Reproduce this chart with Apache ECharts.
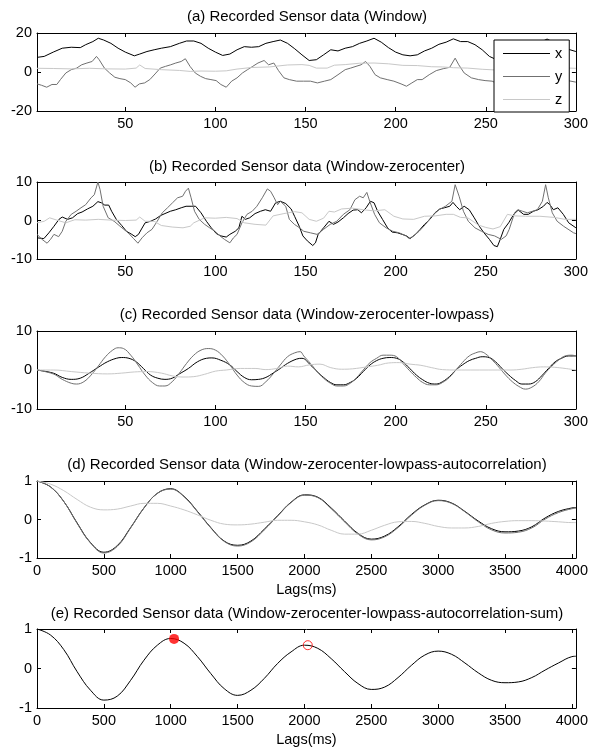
<!DOCTYPE html>
<html>
<head>
<meta charset="utf-8">
<script src="https://cdn.jsdelivr.net/npm/echarts@6/dist/echarts.min.js"></script>
<style>
html,body{margin:0;padding:0;background:#fff;}
#chart{width:591px;height:749px;}
</style>
</head>
<body>
<div id="chart"></div>
<script>
// ---------- text ----------
const panelTitles = [
  "(a) Recorded Sensor data (Window)",
  "(b) Recorded Sensor data (Window-zerocenter)",
  "(c) Recorded Sensor data (Window-zerocenter-lowpass)",
  "(d) Recorded Sensor data (Window-zerocenter-lowpass-autocorrelation)",
  "(e) Recorded Sensor data (Window-zerocenter-lowpass-autocorrelation-sum)"
];
const seriesNames = ["x", "y", "z"];
const lagAxisName = "Lags(ms)";

// ---------- tick labels ----------
const sampleTicks = [50, 100, 150, 200, 250, 300];
const lagTicks = [0, 500, 1000, 1500, 2000, 2500, 3000, 3500, 4000];

// ---------- (a) raw window ----------
const aX = [[1,7.5],[5,8],[10,10.2],[15,12.2],[20,12.7],[25,12.5],[28,14],[32,15.6],[35,17.3],[38,16.4],[42,14.7],[46,12.2],[50,10.2],[55,8.3],[58,9.2],[62,10.5],[66,11.4],[70,12.2],[75,13],[80,14.7],[84,15.9],[88,15.9],[92,14.7],[96,12.2],[100,10.2],[104,8.5],[108,9.2],[112,11.4],[116,13],[120,12.7],[124,13],[128,14.7],[132,15.6],[136,16.4],[140,14.7],[144,11.9],[148,8.8],[152,5.9],[156,6.3],[160,8.8],[164,11.4],[168,10.8],[172,12.2],[176,13],[180,14.7],[184,15.9],[188,17.3],[192,15.3],[196,12.5],[200,10.2],[204,8.8],[208,8.3],[212,8.8],[216,10.8],[220,12.2],[224,14.2],[228,15.3],[232,17],[236,15.6],[240,15.6],[244,14],[248,11.4],[252,8],[256,6.3],[260,9.9],[264,12],[268,14.9],[272,13.8],[276,14.6],[280,15],[284,16.9],[288,15],[292,14],[296,11.6],[300,10.5]];
const aY = [[1,-6.1],[3.5,-6.8],[6.4,-7.8],[9.3,-6.4],[12,-6.4],[14,-3.9],[17,-0.5],[20,1.2],[23,2],[25.8,3.7],[28.7,4.6],[31.6,5.4],[34,8],[35.5,6.3],[38.4,2],[41.3,-0.5],[44.2,-2.7],[47,-3.4],[50,-3.9],[53,-5.6],[55.4,-7.8],[57.8,-6.1],[60.7,-5.6],[63.6,-3.9],[66.5,-1],[69.4,2],[72.3,2.9],[75.2,3.7],[78,4.6],[81,5.4],[83.3,6.8],[85.9,2.9],[88.8,-0.5],[91.7,-2.2],[94.6,-3.4],[97.5,-3.9],[100.4,-4.4],[103,-6.4],[106,-7.8],[109,-4.7],[112,-3],[115,-0.5],[117.8,1.2],[120.7,2.9],[123.6,4.6],[127,5.9],[129.5,3.7],[132.4,4.6],[135,0.7],[138,-3],[141,-3.9],[145,-4.7],[148.8,-4.7],[152.7,-4.7],[156.6,-5.6],[160.5,-4.7],[164,-3.9],[168,-1.4],[172,1.2],[175,2],[178,2.9],[180.8,3.7],[183.3,5.4],[185.7,2.9],[188.6,-1.4],[191.5,-3],[195.3,-3.9],[199,-4.7],[203,-6.1],[206,-7.3],[209,-5.6],[212,-3.9],[214.7,-3.9],[218.6,-1.4],[222.5,0.7],[226.4,1.7],[230,2.4],[233,7.1],[235,3.7],[238,-0.5],[242,-3],[246,-3.9],[249.6,-4.4],[253.5,-4.7],[258.6,-6.9],[261,-6],[263,-4.3],[266,0],[268,0.8],[271,0.4],[274,0],[277,0.4],[280,0.8],[282,3],[283.5,7.3],[285,3.9],[287,0],[290,-2.2],[293,-3.5],[296,-4.5],[300,-5.2]];
const aZ = [[1,1.9],[10,1.8],[20,1.6],[30,1.9],[40,1.6],[50,1.5],[56,2],[58,3.6],[61,1.8],[70,1.2],[80,0.8],[86,0.3],[92,0.5],[100,0.4],[106,0.6],[112,1.5],[120,2.3],[130,2.6],[140,3.6],[148,3.8],[152,3.4],[156,2],[162,2],[166,3.5],[172,3.8],[180,4.5],[188,4.6],[196,4.2],[204,3.4],[212,3.3],[220,2.7],[226,2.6],[232,2.2],[240,2],[248,1.4],[256,1],[264,2.2],[272,2],[280,2.2],[288,2.4],[296,2],[300,1.9]];

// ---------- (b) zero-centred ----------
const bX = [[1,-4.5],[4.8,-4.7],[7.6,-3.2],[10.4,-1.5],[13.2,0.3],[15,0.9],[18,0.3],[20.7,0.7],[23.6,1.8],[26,2.2],[29,3],[32,3.7],[34.8,4.9],[36.7,4.6],[38.6,4],[40.8,4],[42.4,2.4],[45,0.3],[48,-1.3],[50.6,-2.8],[53.6,-3.6],[55.5,-4.2],[57.3,-3.6],[59,-2.2],[61,-0.6],[64,-0.2],[66.8,0.4],[69.6,1.3],[72,1.8],[75,2.4],[78,2.8],[81,3.3],[83.7,3.7],[86.5,3.7],[89,3.7],[92,2],[95,-0.2],[97.7,-1.9],[100.5,-3.4],[103,-4],[106,-4.3],[108,-3.6],[111,-2.8],[113,-1.9],[114.7,1.1],[116.6,0.3],[119,0.7],[122,1.8],[125,2.4],[127.7,2.8],[130.6,2.4],[133.4,4.6],[136,5],[139,4.4],[142,3],[144,1],[146.5,-1.5],[148.5,-4],[151,-5.3],[154,-6.5],[155.5,-5.8],[157,-3.6],[160,-1.9],[163,-0.2],[165.5,-1],[168,-0.4],[171,0.7],[173.6,1.8],[176.4,2.7],[179,2.8],[181,2],[183.6,3.3],[186,5],[188,4.6],[190,2.4],[192.7,0.3],[195.5,-1.9],[198,-3],[201,-3.2],[203.6,-3.6],[206,-4],[208,-4.7],[211,-3.6],[213.6,-2.3],[216,-1],[219,0.3],[221.8,2],[224.5,3],[227,3.3],[230,3.7],[231.8,4.7],[233.6,3.7],[235.5,2.8],[238,3.7],[240.8,2.8],[243.6,0.7],[246.4,-1.5],[249,-3.2],[252,-4.9],[254.5,-6.5],[256.4,-6.8],[258,-4.9],[260,-2.3],[262.7,-0.6],[265.5,1.6],[268,2.7],[271,1.6],[273.6,1.6],[276.4,2.4],[279,2.8],[282,3.7],[284,4.7],[285.6,4.1],[287.5,2.8],[290,3.3],[293,1.6],[296,-0.6],[300,-1.9]];
const bY = [[1,-3.6],[3.8,-4.9],[6.6,-5.9],[8.5,-4.9],[10.4,-3.6],[13,-4.2],[15,-2.8],[17,-0.2],[20,1.6],[22.7,2.4],[25.4,3.3],[28,4.1],[31,5.9],[32.8,6.7],[34.8,10],[36,8],[37.7,3.7],[40.5,0.7],[43.8,-0.2],[46.6,-1.3],[48.9,-2.2],[51.6,-3.2],[54.6,-4.7],[57,-5.9],[59.3,-4.5],[62,-3.2],[64.8,-2.3],[67.7,-0.2],[70.5,2],[73.4,3.3],[76.2,4.6],[79,5.9],[81.8,6.3],[83.4,7.6],[85,8.4],[86.5,5.9],[88.4,2.4],[91,0.3],[94,-1],[96.8,-1.9],[99.7,-2.8],[102.5,-4],[105,-4.9],[108,-5.8],[110,-4.5],[112,-3.6],[114.7,-0.6],[117.5,1.6],[120.4,2.4],[123,3.7],[126,5.9],[128.8,8.2],[130.6,7.6],[132.6,5.9],[134.5,4.1],[136,5],[139,3.7],[141,0.3],[143.8,-1],[146.7,-1.9],[149,-2.8],[152.7,-3.2],[156.4,-3.6],[160,-2.3],[163.7,-1],[167.3,-0.2],[171,1.6],[174.6,2.8],[177.4,5.4],[180,6.3],[182,5.9],[184,7.3],[185.6,5],[188.3,1.6],[191,-0.6],[194.7,-1.9],[198.4,-2.8],[202,-3.2],[205.7,-4],[207.5,-4.7],[210,-4],[213,-2.8],[216.6,-1],[220,1.1],[224,2.8],[227.6,3.7],[231.2,5],[233,9.3],[234,9.7],[235.2,6.3],[237.6,2.4],[240.3,-0.2],[244,-1.9],[247.6,-2.8],[251.3,-3.6],[254.9,-4],[258.6,-4.9],[261.3,-4],[263,-2.3],[266,2],[267.7,2.8],[270.4,2.4],[273,2],[276,2.4],[278.6,2.8],[281.4,5],[283.2,9.3],[284.7,5.9],[286.9,2],[289.6,-0.2],[293.2,-1.5],[298.7,-3.2],[300,-3.4]];
const bZ = [[1,-0.6],[5,-0.2],[8,0.7],[12,0.1],[17,-0.6],[22,0.2],[28,0.1],[35,0.3],[42,0.1],[50,0],[56,0.1],[58,0.9],[61,-0.2],[66,-0.2],[70,-1.3],[76,-1.7],[82,-1.9],[86,-1.5],[88,-0.6],[94,0.7],[100,0.6],[106,0.8],[112,0.5],[116,-0.6],[122,-1],[128,-1.2],[132,1.2],[138,1.8],[144,2.3],[148,2],[152,0.3],[156,-0.2],[160,0.6],[163,2.4],[166,2.2],[170,3],[176,3.2],[182,2.8],[188,2.5],[194,2.8],[199,1.1],[204,0.4],[210,0.3],[216,1.1],[222,1.2],[228,1.6],[232,1.6],[236,0.8],[240,0.7],[246,-1.2],[250,-1.8],[254,-2.2],[258,-1.6],[262,1.6],[266,1.2],[272,1.1],[280,1.1],[288,0.8],[294,0.3],[300,0.3]];

// ---------- (c) low-passed ----------
const cX = [[1,0],[10,-0.8],[15,-1.9],[20,-2.4],[25,-2.1],[30,-0.8],[35,0.7],[40,2.1],[45,3],[48,3.2],[52,3],[56,2.1],[60,0.4],[64,-1.3],[68,-2.1],[72,-2.4],[76,-2.1],[80,-1],[85,0.4],[90,2.1],[95,3],[98,3.1],[103,2.5],[108,1.3],[112,-0.4],[116,-1.9],[120,-2.5],[124,-2.4],[128,-1.9],[132,-0.8],[136,0.4],[140,1.7],[145,2.8],[148,3],[152.7,1.3],[156.4,-0.4],[160,-1.9],[163.8,-3.2],[167.4,-3.8],[171,-3.8],[174.8,-3.2],[178.4,-2.1],[182,-0.4],[185.8,1.3],[189.4,2.4],[193,3],[196.8,3.2],[200.5,3],[204,2.1],[207.8,0.4],[211.5,-1.3],[215,-2.5],[218.8,-3.4],[222.5,-3.6],[226,-3],[229.8,-1.7],[233.4,0],[237,1.3],[240.8,2.4],[244.4,3],[248,3.4],[251.8,3.2],[255.4,2.1],[259,0.4],[262.8,-1.3],[266.5,-2.7],[270,-3.6],[273.8,-3.6],[277.5,-3],[281,-1.5],[284.8,0.4],[288.5,2.1],[292,3],[295.9,3.6],[300,3.6]];
const cY = [[1,0],[10,-1],[15,-2.4],[20,-3.4],[23,-3.6],[27,-3],[31,-1.3],[35,1],[39,3.4],[43,5.1],[46,5.7],[49,5.5],[53,3.8],[57,1.3],[61,-1.3],[65,-3.2],[69,-4.1],[72,-4.1],[76,-3],[80,-0.8],[84,1.7],[88,3.8],[92,5.1],[96,5.5],[100,5.1],[104,3.6],[108,1.3],[112,-1.3],[116,-3.2],[120,-4.1],[124,-4.2],[128,-3],[132,-1],[136,1.3],[140,3.4],[144,4.4],[147,4.7],[149,3.6],[152.7,1.7],[156.4,-0.4],[160,-2.1],[163.8,-3.4],[167.4,-4.1],[171,-4.1],[174.8,-3.4],[178.4,-1.9],[182,0],[185.8,1.9],[189.4,3],[193,3.8],[196.8,3.8],[200.5,3.4],[204,1.7],[207.8,-0.2],[211.5,-1.9],[215,-3.2],[218.8,-3.8],[222.5,-3.8],[226,-3.2],[229.8,-1.9],[233.4,0],[237,1.9],[240.8,3.6],[244.4,4.4],[247,4.7],[250,4.1],[253.7,2.5],[257.3,0.7],[261,-1.3],[264.7,-3],[268.3,-4.2],[272,-4.9],[275.6,-4.4],[279.4,-3],[283,-0.8],[286.7,1],[290.3,2.5],[294,3.6],[297.8,3.8],[300,3.6]];
const cZ = [[1,0],[10,0],[20,-0.4],[30,-0.8],[40,-1],[48,-0.8],[55,-0.5],[62,-0.4],[70,-0.8],[76,-1.5],[82,-1.8],[88,-1.7],[94,-1.1],[100,-0.3],[106,0],[114,0.4],[122,0.4],[128,0.1],[134,0.4],[140,1],[146,0.8],[152,1.3],[158,1.5],[164,0.6],[170,0.2],[176,0.3],[184,0.8],[190,1.2],[196,1.8],[202,1.9],[208,1.5],[214,1.2],[220,0.6],[226,0.1],[234,0],[244,0],[254,0],[264,0],[270,0.2],[276,0.6],[282,0.8],[288,0.7],[294,0.4],[300,0]];

// ---------- (d) autocorrelation (lags in ms) ----------
const lagMs = [0,100,200,300,400,500,600,700,800,900,1000,1100,1200,1300,1400,1500,1600,1700,1800,1900,2000,2100,2200,2300,2400,2500,2600,2700,2800,2900,3000,3100,3200,3300,3400,3500,3600,3700,3800,3900,4000,4030];
const dX = [1,0.85,0.47,-0.09,-0.6,-0.85,-0.68,-0.21,0.3,0.68,0.8,0.6,0.21,-0.21,-0.56,-0.67,-0.56,-0.25,0.1,0.45,0.64,0.58,0.3,-0.04,-0.36,-0.51,-0.43,-0.19,0.13,0.38,0.5,0.43,0.21,-0.04,-0.24,-0.32,-0.3,-0.19,0.04,0.21,0.3,0.31];
const dY = [1,0.85,0.47,-0.1,-0.61,-0.87,-0.7,-0.22,0.3,0.68,0.79,0.59,0.2,-0.22,-0.57,-0.69,-0.58,-0.27,0.09,0.44,0.63,0.57,0.28,-0.06,-0.38,-0.53,-0.45,-0.21,0.11,0.37,0.49,0.42,0.2,-0.06,-0.27,-0.35,-0.33,-0.22,0.01,0.18,0.28,0.29];
const dZ = [1,0.92,0.75,0.52,0.32,0.25,0.27,0.35,0.42,0.42,0.35,0.25,0.12,-0.02,-0.12,-0.14,-0.12,-0.07,-0.02,-0.02,-0.06,-0.14,-0.28,-0.38,-0.38,-0.28,-0.15,-0.06,-0.05,-0.1,-0.18,-0.22,-0.22,-0.18,-0.1,-0.05,-0.03,-0.03,-0.04,-0.06,-0.08,-0.08];

// ---------- (e) summed autocorrelation ----------
const eSum = [1,0.85,0.48,-0.08,-0.55,-0.8,-0.7,-0.3,0.21,0.59,0.76,0.64,0.3,-0.13,-0.51,-0.68,-0.55,-0.25,0.13,0.42,0.59,0.51,0.25,-0.08,-0.38,-0.53,-0.47,-0.23,0.08,0.34,0.44,0.36,0.14,-0.11,-0.3,-0.36,-0.34,-0.23,-0.04,0.14,0.3,0.31];
const ePeakFound = [[1025, 0.75]];
const ePeakNext = [[2025, 0.59]];

// ---------- layout / styles ----------
const FONT = "'Liberation Sans', Arial, Helvetica, sans-serif";
const colors = ["#000000", "#707070", "#c8c8c8"];
const gridTops = [33, 182, 331, 481, 629];
const gridHeights = [78, 77, 78, 77, 79];
const gridLeft = 37, gridWidth = 540;
const titleCentersY = [17, 167, 315, 464.5, 613.5];

const pairs = (xs, ys) => xs.map((x, i) => [x, ys[i]]);

const grids = gridTops.map((t, i) => ({left: gridLeft, top: t, width: gridWidth, height: gridHeights[i]}));

const xCfg = [
  {min: 1, max: 300, ticks: sampleTicks, name: ""},
  {min: 1, max: 300, ticks: sampleTicks, name: ""},
  {min: 1, max: 300, ticks: sampleTicks, name: ""},
  {min: 0, max: 4030, ticks: lagTicks, name: lagAxisName},
  {min: 0, max: 4030, ticks: lagTicks, name: lagAxisName}
];
const yCfg = [
  {min: -20, max: 20, interval: 20},
  {min: -10, max: 10, interval: 10},
  {min: -10, max: 10, interval: 10},
  {min: -1, max: 1, interval: 1},
  {min: -1, max: 1, interval: 1}
];

const labelStyle = {color: "#000", fontSize: 14.5, fontFamily: FONT};
const lineAx = {show: true, onZero: false, lineStyle: {color: "#000", width: 1}};
const plainNum = v => String(v);

const xAxes = [], yAxes = [];
xCfg.forEach((c, i) => {
  ["bottom", "top"].forEach(pos => {
    xAxes.push({
      type: "value", gridIndex: i, position: pos, min: c.min, max: c.max,
      name: pos === "bottom" ? c.name : "", nameLocation: "middle", nameGap: 24,
      nameTextStyle: labelStyle,
      axisLine: lineAx,
      axisTick: {show: true, inside: true, length: 4, customValues: c.ticks, lineStyle: {color: "#000", width: 1}},
      axisLabel: Object.assign({show: pos === "bottom", customValues: c.ticks, margin: 5, formatter: plainNum}, labelStyle),
      splitLine: {show: false}
    });
  });
});
yCfg.forEach((c, i) => {
  ["left", "right"].forEach(pos => {
    yAxes.push({
      type: "value", gridIndex: i, position: pos, min: c.min, max: c.max, interval: c.interval,
      axisLine: lineAx,
      axisTick: {show: true, inside: true, length: 4, lineStyle: {color: "#000", width: 1}},
      axisLabel: Object.assign({show: pos === "left", margin: 5, formatter: plainNum}, labelStyle),
      splitLine: {show: false}
    });
  });
});

function line(name, data, panel, colorIdx, smooth) {
  return {
    type: "line", name: name, data: data,
    xAxisIndex: panel * 2, yAxisIndex: panel * 2,
    symbol: "none", smooth: smooth ? 0.4 : false,
    lineStyle: {color: colors[colorIdx], width: 1},
    itemStyle: {color: colors[colorIdx]},
    emphasis: {disabled: true}, animation: false
  };
}

const series = [
  line("x", aX, 0, 0), line("y", aY, 0, 1), line("z", aZ, 0, 2),
  line("x", bX, 1, 0), line("y", bY, 1, 1), line("z", bZ, 1, 2),
  line("x", cX, 2, 0, true), line("y", cY, 2, 1, true), line("z", cZ, 2, 2, true),
  line("x", pairs(lagMs, dX), 3, 0, true), line("y", pairs(lagMs, dY), 3, 1, true), line("z", pairs(lagMs, dZ), 3, 2, true),
  line("sum", pairs(lagMs, eSum), 4, 0, true),
  {type: "scatter", name: "peak", data: ePeakFound, xAxisIndex: 8, yAxisIndex: 8,
   symbol: "circle", symbolSize: 10, itemStyle: {color: "#ff0000"}, animation: false, z: 5},
  {type: "scatter", name: "next", data: ePeakNext, xAxisIndex: 8, yAxisIndex: 8,
   symbol: "circle", symbolSize: 9, itemStyle: {color: "rgba(0,0,0,0)", borderColor: "#ff0000", borderWidth: 1}, animation: false, z: 5}
];

const titles = panelTitles.map((t, i) => ({
  text: t, left: gridLeft + gridWidth / 2, top: titleCentersY[i] - 8, textAlign: "center", padding: 0,
  textStyle: {color: "#000", fontSize: 15, fontWeight: "normal", fontFamily: FONT, lineHeight: 16}
}));

const chart = echarts.init(document.getElementById("chart"), null, {renderer: "canvas"});
chart.setOption({
  backgroundColor: "#fff",
  animation: false,
  title: titles,
  grid: grids,
  xAxis: xAxes,
  yAxis: yAxes,
  legend: {
    data: seriesNames.map(n => ({name: n, icon: "rect"})), orient: "vertical", left: 494, top: 40,
    itemWidth: 47, itemHeight: 1, itemGap: 8, padding: [6, 7, 5, 9],
    backgroundColor: "#fff", borderColor: "#000", borderWidth: 1, borderRadius: 0,
    selectedMode: false,
    textStyle: {color: "#000", fontSize: 14.5, fontFamily: FONT, lineHeight: 14}
  },
  series: series
});
</script>
</body>
</html>
